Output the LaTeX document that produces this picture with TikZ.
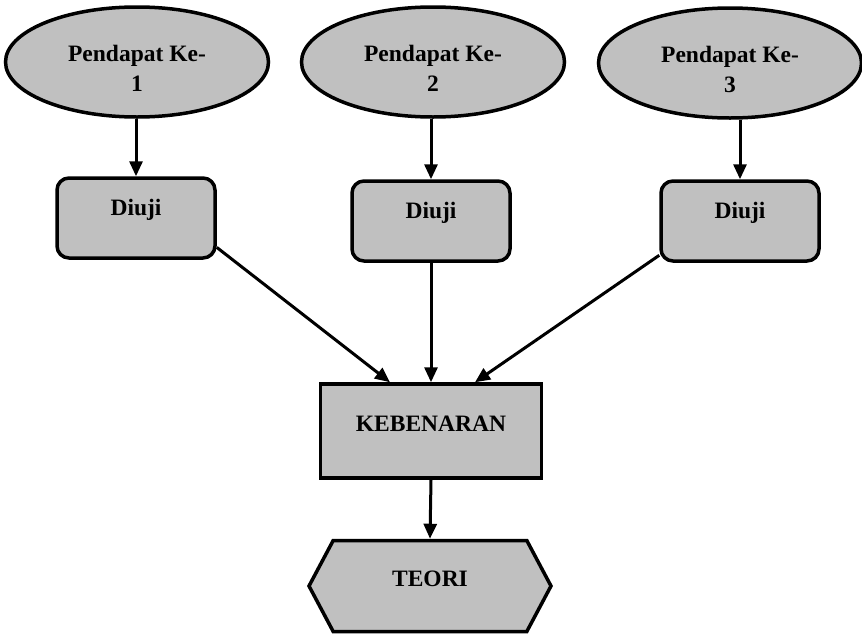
\documentclass[tikz,border=0pt]{standalone}
\usepackage{fontspec}
\setmainfont{Liberation Serif}
\usetikzlibrary{arrows.meta, shapes.geometric, shapes.symbols}
\definecolor{BoxGray}{RGB}{192,192,192}

\begin{document}
\begin{tikzpicture}[x=1pt, y=-1pt, font=\fontsize{23.5}{30}\selectfont\bfseries,
	pendapat/.style={ellipse, draw, line width=3.5pt, fill=BoxGray, align=center,
		minimum width=263pt, minimum height=110pt, inner sep=0pt,
		text height=58pt, text depth=0pt},
	uji/.style={rectangle, draw, line width=3.5pt, rounded corners=12pt, fill=BoxGray,
		minimum width=158pt, minimum height=80pt, text height=15pt, text depth=21pt},
	benar/.style={rectangle, draw, line width=3.5pt, fill=BoxGray,
		minimum width=221pt, minimum height=94pt, text height=18pt, text depth=18pt},
	teori/.style={signal, signal to=west and east, signal pointer angle=124,
		draw, line width=3.5pt, fill=BoxGray, minimum width=242pt, minimum height=91pt,
		text height=18pt, text depth=18pt},
	fl/.style={-{Triangle[length=15pt, width=13pt]}, line width=3pt}]

	\useasboundingbox (0,0) rectangle (862,635);

	\node[pendapat] (p1) at (137,62) {Pendapat Ke-\\1};
	\node[pendapat] (p2) at (433,62) {Pendapat Ke-\\2};
	\node[pendapat] (p3) at (730,63) {Pendapat Ke-\\3};

	\node[uji] (u1) at (136,218) {Diuji};
	\node[uji] (u2) at (431,221) {Diuji};
	\node[uji] (u3) at (740,221) {Diuji};

	\node[benar] (k) at (431,431) {KEBENARAN};
	\node[teori] (t) at (430,586) {TEORI};

	\draw[fl] (p1.south -| u1.north) -- (u1.north);
	\draw[fl] (p2.south -| u2.north) -- (u2.north);
	\draw[fl] (p3.south -| u3.north) -- (u3.north);

	\draw[fl] (u1.-20) -- ([xshift=-41pt]k.north);
	\draw[fl] (u2.south) -- (k.north);
	\draw[fl] (u3.-157) -- ([xshift=44pt]k.north);

	\draw[fl] (k.south) -- (t.north);
\end{tikzpicture}
\end{document}
